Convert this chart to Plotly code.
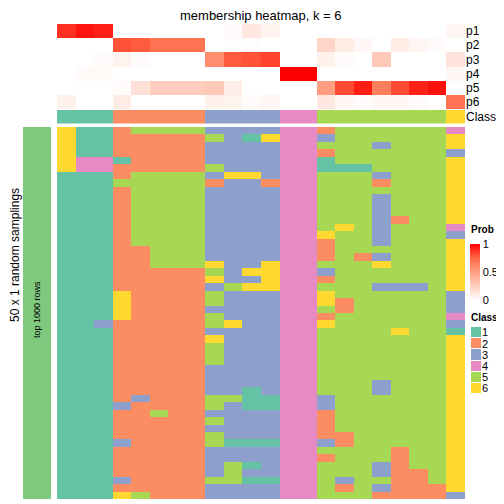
import plotly.graph_objects as go

# The page body has an 8px default margin; figure is sized to fit the window.
OFF = 8
W = H = 504 - OFF
FONT = "Liberation Sans, Arial, sans-serif"

class_colors = ["#66C2A5", "#FC8D62", "#8DA0CB", "#E78AC3", "#A6D854", "#FFD92F"]
class_labels = ["1", "2", "3", "4", "5", "6"]
prob_labels = ["p1", "p2", "p3", "p4", "p5", "p6"]

# per-sample class (22 samples)
sample_class = [1, 1, 1, 2, 2, 2, 2, 2, 3, 3, 3, 3, 4, 4, 5, 5, 5, 5, 5, 5, 5, 6]

p1 = [0.88, 0.95, 0.92, 0, 0, 0, 0, 0, 0, 0.02, 0.12, 0.06, 0, 0, 0, 0, 0, 0, 0, 0, 0, 0.05]
p2 = [0, 0, 0, 0.80, 0.78, 0.70, 0.70, 0.70, 0, 0.01, 0.01, 0, 0, 0, 0.22, 0.10, 0.04, 0, 0.10, 0.05, 0.02, 0]
p3 = [0, 0, 0.02, 0.06, 0.02, 0, 0, 0, 0.58, 0.78, 0.80, 0.84, 0, 0, 0.07, 0.02, 0, 0.28, 0, 0, 0, 0.15]
p4 = [0, 0.03, 0.03, 0, 0, 0, 0, 0, 0, 0, 0, 0, 1.0, 1.0, 0, 0, 0, 0, 0, 0, 0, 0.04]
p5 = [0, 0, 0, 0.02, 0.16, 0.26, 0.26, 0.26, 0.28, 0.09, 0, 0, 0, 0, 0.50, 0.82, 0.93, 0.65, 0.82, 0.92, 0.96, 0]
p6 = [0.07, 0, 0, 0.10, 0, 0, 0, 0, 0.07, 0.06, 0.02, 0.05, 0, 0, 0.12, 0.04, 0.02, 0.04, 0.04, 0.02, 0, 0.70]

# 50 random samplings x 22 samples, class memberships
membership_rows = [
    "6112555533334425555554",
    "6112222253164435555556",
    "6112222233334455535556",
    "6112222233334425555553",
    "6441222233334415555556",
    "6442222253334411155556",
    "1112555536634455535556",
    "1115555523324455525556",
    "1112555533334455555556",
    "1112555533334455535556",
    "1112555533334455535556",
    "1112555533334455535556",
    "1112555533334455532556",
    "1112555533334456535554",
    "1112555533334465535553",
    "1112555533334425535556",
    "1112255533334425555556",
    "1112255533334425235556",
    "1112255563364455565556",
    "1112222253664435555556",
    "1112222263364425555556",
    "1112222235664455533356",
    "1116222253334465555553",
    "1116222253334462555553",
    "1116222233334452555553",
    "1116222253334425555554",
    "1132222256334465555553",
    "1112222233334455556551",
    "1112222263334455555556",
    "1112222253334455555556",
    "1112222253334455555556",
    "1112222253334455555556",
    "1112222233334455555556",
    "1112222233334455555556",
    "1112222233334455535556",
    "1112222233134455535556",
    "1112322255114435555556",
    "1113222253114435555556",
    "1112252233334425555556",
    "1112222253334425555556",
    "1112222233334425555556",
    "1112222253334422555556",
    "1113222251114432555556",
    "1112222233334455552556",
    "1112222233334425552556",
    "1112222235134455532556",
    "1112222235334455532256",
    "1113222255114453552256",
    "1112222233334452532226",
    "1116522233334455522223",
]
membership = [[int(ch) for ch in r] for r in membership_rows]

n_cols = len(sample_class)
n_rows = len(membership)


def px_x(v):
    return (v - OFF) / W


def px_y(v):
    return 1 - (v - OFF) / H


disc_scale = []
for i, c in enumerate(class_colors):
    disc_scale.append([i / 6, c])
    disc_scale.append([(i + 1) / 6, c])

prob_scale = [[0, "#FFFFFF"], [0.25, "#FFCFBF"], [0.5, "#FF9E81"], [0.75, "#FF6846"], [1, "#FF0000"]]

fig = go.Figure()

cols = list(range(n_cols))

# probability annotation
fig.add_trace(go.Heatmap(
    z=[p1, p2, p3, p4, p5, p6], x=cols, y=list(range(6)),
    colorscale=prob_scale, zmin=0, zmax=1, xaxis="x", yaxis="y",
    hoverinfo="skip",
    colorbar=dict(
        x=px_x(470), xanchor="left", y=px_y(244), yanchor="top",
        len=56, lenmode="pixels", thickness=10, outlinewidth=0,
        tickvals=[0, 0.5, 1], ticktext=["0", "0.5", "1"], ticks="",
        tickfont=dict(family=FONT, size=11, color="#000"),
        ypad=0, xpad=0,
    ),
))

# class annotation row
fig.add_trace(go.Heatmap(
    z=[sample_class], x=cols, y=[0],
    colorscale=disc_scale, zmin=0.5, zmax=6.5, showscale=False,
    xaxis="x", yaxis="y2", hoverinfo="skip",
))

# main membership body
fig.add_trace(go.Heatmap(
    z=membership, x=cols, y=list(range(n_rows)),
    colorscale=disc_scale, zmin=0.5, zmax=6.5, showscale=False,
    xaxis="x", yaxis="y3", hoverinfo="skip",
))

# left row-group bar
fig.add_trace(go.Heatmap(
    z=[[1] for _ in range(n_rows)], x=[0], y=list(range(n_rows)),
    colorscale=[[0, "#7FC97F"], [1, "#7FC97F"]], showscale=False,
    xaxis="x2", yaxis="y3", hoverinfo="skip",
))

# class legend
fig.add_trace(go.Heatmap(
    z=[[k] for k in range(1, 7)], x=[0], y=list(range(6)),
    colorscale=disc_scale, zmin=0.5, zmax=6.5, showscale=False, ygap=1,
    xaxis="x3", yaxis="y4", hoverinfo="skip",
))

hidden = dict(showgrid=False, zeroline=False, showticklabels=False, ticks="", showline=False)

fig.update_layout(
    width=W, height=H, margin=dict(l=0, r=0, t=0, b=0),
    paper_bgcolor="white", plot_bgcolor="white",
    font=dict(family=FONT, color="#000"),
    showlegend=False,
    xaxis=dict(domain=[px_x(57), px_x(465)], range=[-0.5, n_cols - 0.5], anchor="y3", **hidden),
    xaxis2=dict(domain=[px_x(23), px_x(51)], range=[-0.5, 0.5], anchor="y3", **hidden),
    xaxis3=dict(domain=[px_x(471), px_x(481)], range=[-0.5, 0.5], anchor="y4", **hidden),
    yaxis=dict(domain=[px_y(109), px_y(24)], range=[5.5, -0.5], anchor="x", side="right",
               showgrid=False, zeroline=False, ticks="", tickvals=list(range(6)), ticktext=prob_labels,
               tickfont=dict(family=FONT, size=12, color="#000")),
    yaxis2=dict(domain=[px_y(123.5), px_y(110)], range=[0.5, -0.5], anchor="x", side="right",
                showgrid=False, zeroline=False, ticks="", tickvals=[0], ticktext=["Class"],
                tickfont=dict(family=FONT, size=12, color="#000")),
    yaxis3=dict(domain=[px_y(499), px_y(127)], range=[n_rows - 0.5, -0.5], anchor="x", **hidden),
    yaxis4=dict(domain=[px_y(394), px_y(327)], range=[5.5, -0.5], anchor="x3", side="right",
                showgrid=False, zeroline=False, ticks="", tickvals=list(range(6)), ticktext=class_labels,
                tickfont=dict(family=FONT, size=11, color="#000")),
    annotations=[
        dict(text="membership heatmap, k = 6", x=px_x(261), y=px_y(15), xref="paper", yref="paper",
             showarrow=False, font=dict(family=FONT, size=13, color="#000"), xanchor="center", yanchor="middle"),
        dict(text="50 x 1 random samplings", x=px_x(15), y=px_y(255), xref="paper", yref="paper",
             showarrow=False, textangle=-90, font=dict(family=FONT, size=12, color="#000"),
             xanchor="center", yanchor="middle"),
        dict(text="top 1000 rows", x=px_x(37), y=px_y(310), xref="paper", yref="paper",
             showarrow=False, textangle=-90, font=dict(family=FONT, size=9, color="#000"),
             xanchor="center", yanchor="middle"),
        dict(text="<b>Prob</b>", x=px_x(469), y=px_y(230), xref="paper", yref="paper",
             showarrow=False, font=dict(family=FONT, size=10, color="#000"),
             xanchor="left", yanchor="middle"),
        dict(text="<b>Class</b>", x=px_x(469), y=px_y(317), xref="paper", yref="paper",
             showarrow=False, font=dict(family=FONT, size=10, color="#000"),
             xanchor="left", yanchor="middle"),
    ],
)

fig.write_html("out.html")
